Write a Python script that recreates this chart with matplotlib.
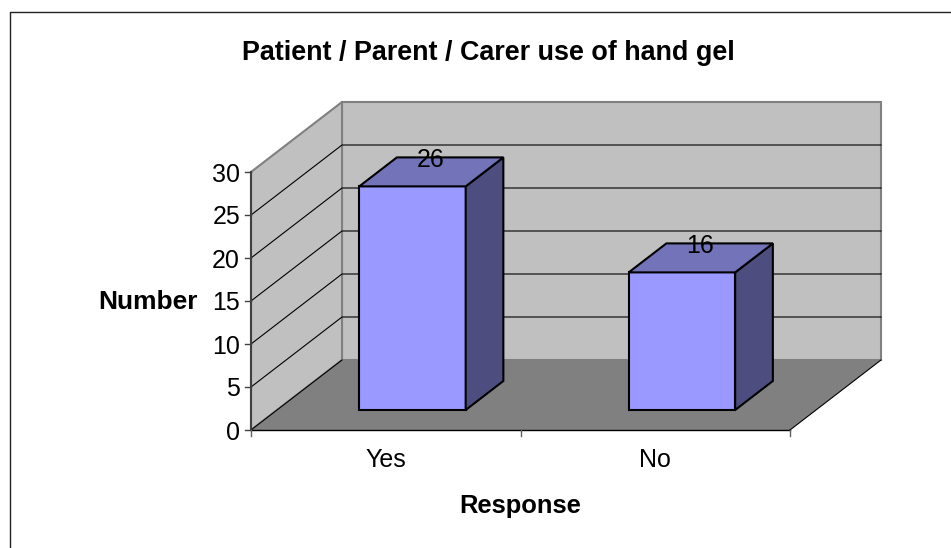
import matplotlib
matplotlib.use("Agg")
import matplotlib.pyplot as plt
from matplotlib.patches import Polygon

plt.rcParams['font.family'] = ['Liberation Sans', 'DejaVu Sans']

categories = ["Yes", "No"]
values = [26, 16]
y_ticks = [0, 5, 10, 15, 20, 25, 30]
title = "Patient / Parent / Carer use of hand gel"
x_title = "Response"
y_title = "Number"

# Oblique projection: category position, value and depth -> canvas pixels
X0, Y0 = 251.0, 430.0
CAT_W = 269.5
PX_PER_UNIT = 8.6
DX, DY = 91.0, -70.0
BAR_X = (0.305, 0.70)
BAR_D = (0.286, 0.70)
YMAX = y_ticks[-1]


def P(x, v, d=0.0):
    return (X0 + x * CAT_W + d * DX, Y0 - v * PX_PER_UNIT + d * DY)


fig = plt.figure(figsize=(9.51, 5.48), dpi=100, facecolor="white")
ax = fig.add_axes([0, 0, 1, 1])
ax.set_xlim(0, 951)
ax.set_ylim(548, 0)
ax.axis("off")

n = len(categories)
GREY_EDGE = "#808080"
WALL = "#c0c0c0"
FLOOR = "#808080"


def poly(pts, fc, ec, lw, z):
    ax.add_patch(Polygon(pts, closed=True, facecolor=fc, edgecolor=ec, linewidth=lw,
                         joinstyle="miter", zorder=z))


# outer chart border (left and top only are visible)
ax.plot([10, 10, 951], [548, 12, 12], color="#222222", lw=1.0, zorder=1)

# walls and floor
poly([P(0, 0, 1), P(n, 0, 1), P(n, YMAX, 1), P(0, YMAX, 1)], WALL, GREY_EDGE, 1.5, 2)
poly([P(0, 0, 0), P(0, 0, 1), P(0, YMAX, 1), P(0, YMAX, 0)], WALL, GREY_EDGE, 1.5, 2)
poly([P(0, 0, 0), P(n, 0, 0), P(n, 0, 1), P(0, 0, 1)], FLOOR, "none", 0, 3)

# gridlines
for t in y_ticks[1:-1]:
    ax.plot(*zip(P(0, t, 0), P(0, t, 1), P(n, t, 1)), color="black", lw=0.8, zorder=3)
ax.plot(*zip(P(0, 0, 0), P(0, 0, 1)), color="black", lw=0.8, zorder=4)
ax.plot(*zip(P(n, 0, 0), P(n, 0, 1)), color="black", lw=0.8, zorder=4)

# value axis line and ticks
ax.plot(*zip(P(0, 0), P(0, YMAX)), color="#404040", lw=1.5, zorder=5)
for t in y_ticks:
    x, y = P(0, t)
    ax.plot([x - 6, x], [y, y], color="#404040", lw=1.0, zorder=5)
    ax.text(x - 11, y, str(t), ha="right", va="center_baseline", fontsize=18, color="black", zorder=6)

# category axis line and ticks
ax.plot(*zip(P(0, 0), P(n, 0)), color="black", lw=1.0, zorder=5)
for i in range(n + 1):
    x, y = P(i, 0)
    ax.plot([x, x], [y, y + 6], color="#606060", lw=1.0, zorder=5)
for i, c in enumerate(categories):
    x, y = P(i + 0.5, 0)
    ax.text(x, y + 30, c, ha="center", va="center", fontsize=18, color="black", zorder=6)

# bars
for i, v in enumerate(values):
    xl, xr = i + BAR_X[0], i + BAR_X[1]
    d0, d1 = BAR_D
    poly([P(xl, 0, d0), P(xr, 0, d0), P(xr, v, d0), P(xl, v, d0)], "#9999ff", "black", 1.5, 7)
    poly([P(xr, 0, d0), P(xr, 0, d1), P(xr, v, d1), P(xr, v, d0)], "#4d4d80", "black", 1.5, 7)
    poly([P(xl, v, d0), P(xr, v, d0), P(xr, v, d1), P(xl, v, d1)], "#7373b9", "black", 1.5, 7)
    lx, _ = P((xl + xr) / 2, v, (d0 + d1) / 2)
    _, ly = P((xl + xr) / 2, v, d1)
    ax.text(lx - 1, ly + 2.5, str(v), ha="center", va="center", fontsize=18, color="black", zorder=8)

ax.text(488.5, 53.5, title, ha="center", va="center", fontsize=19.4, fontweight="bold")
ax.text(520, 506.5, x_title, ha="center", va="center", fontsize=18.4, fontweight="bold")
ax.text(148, 302, y_title, ha="center", va="center", fontsize=19, fontweight="bold")

fig.savefig("out.png", dpi=100, facecolor="white")
